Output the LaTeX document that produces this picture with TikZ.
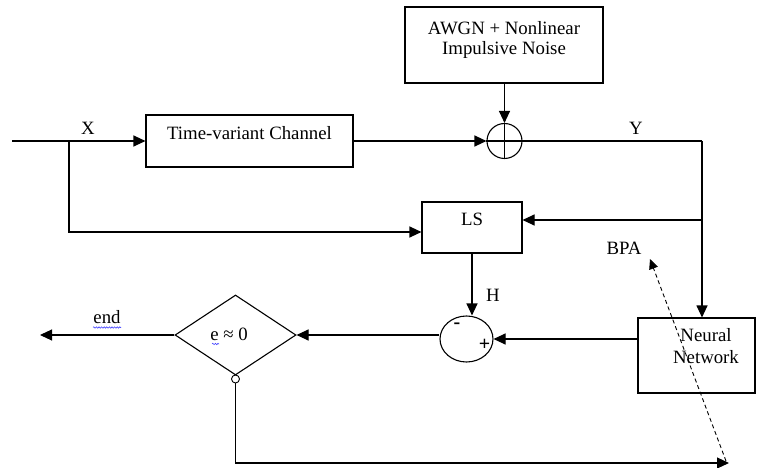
\documentclass[tikz,border=0pt]{standalone}
\usepackage{fontspec}
\setmainfont{Liberation Serif}
\usetikzlibrary{arrows.meta,shapes.geometric,decorations.pathmorphing}
\begin{document}
\begin{tikzpicture}[x=1pt,y=-1pt,
  line width=1.1pt,
  >={Triangle[length=12pt,width=11pt]},
  font=\fontsize{18.8}{22}\selectfont,
  blk/.style={draw, rectangle, inner sep=0pt},
  lbl/.style={inner sep=0pt, anchor=center},
  wavy/.style={draw=blue!75, line width=0.6pt, decorate,
    decoration={snake, amplitude=0.7pt, segment length=2.6pt}},
  sign/.style={inner sep=0pt, font=\fontsize{20}{20}\selectfont\bfseries}
]
\useasboundingbox (0,0) rectangle (764,468);

% blocks
\node[blk, minimum width=198pt, minimum height=76pt] (awgn) at (504,45) {};
\node[lbl] (awgnt1) at (504,28) {AWGN + Nonlinear};
\node[lbl] (awgnt2) at (504,50) {Impulsive Noise};

\node[blk, minimum width=207pt, minimum height=52pt] (ch) at (249.5,141) {};
\node[lbl] (cht) at (249.5,133) {Time-variant Channel};

\node[draw, circle, minimum size=35pt, inner sep=0pt] (add) at (504.5,141) {};
\draw (add.north) -- (add.south);
\draw (add.west) -- (add.east);

\node[blk, minimum width=100pt, minimum height=51pt] (ls) at (472,227.5) {};
\node[lbl] (lst) at (472,219) {LS};

\node[draw, ellipse, minimum width=53pt, minimum height=46pt, inner sep=0pt] (sub) at (466.5,339) {};
\node[sign] (minus) at (457,326) {-};
\node[sign] (plus) at (484.5,345) {+};

\node[blk, minimum width=117pt, minimum height=75pt] (nn) at (696.5,355.5) {};
\node[lbl, align=center] (nnt) at (706,346) {Neural\\Network};

\node[draw, diamond, minimum width=121pt, minimum height=80pt, inner sep=0pt] (dec) at (235.5,335) {};
\node[lbl] (dect) at (229,334) {e ≈ 0};
\draw[wavy] (212,344) -- (219,344);

\node[draw, circle, minimum size=8pt, inner sep=0pt, line width=0.9pt] (loop) at (235.5,379) {};

% labels
\node[lbl] (xl) at (88,128) {X};
\node[lbl] (yl) at (636,128) {Y};
\node[lbl] (hl) at (493,295) {H};
\node[lbl] (bpal) at (624,248) {BPA};
\node[lbl] (endl) at (107,317) {end};
\draw[wavy] (93,327.5) -- (121,327.5);

% coordinates
\coordinate (xin) at (12,141);
\coordinate (xb) at (69,141);
\coordinate (yc) at (702,141);
\coordinate (endpt) at (40,335);
\coordinate (fbend) at (729,463);
\coordinate (bpaS) at (726,461);
\coordinate (bpaT) at (650,259);

% connectors
\draw (xin) -- (xb);
\draw[->] (xb) -- (ch.west);
\draw[->] (xb) |- ([yshift=-4.5pt]ls.west);
\draw[->] (ch.east) -- (add.west);
\draw[->] (awgn.south -| add.north) -- (add.north);
\draw (add.east) -- (yc);
\draw[->] (yc) -- (yc |- nn.north);
\draw[->] (yc |- ls.east) ++(0,-7.5) -- ([yshift=7.5pt]ls.east);
\draw[->] (ls.south) -- (ls.south |- sub.north);
\draw[->] (sub.east -| nn.west) -- (sub.east);
\draw[->] (dec.east -| sub.west) -- (dec.east);
\draw[->] (dec.west) -- (endpt);
\draw[->] (loop.south) |- (fbend);
\draw[->, dashed, line width=0.9pt, dash pattern=on 4pt off 3pt,
  >={Triangle[length=10pt,width=9pt]}] (bpaS) -- (bpaT);
\end{tikzpicture}
\end{document}
